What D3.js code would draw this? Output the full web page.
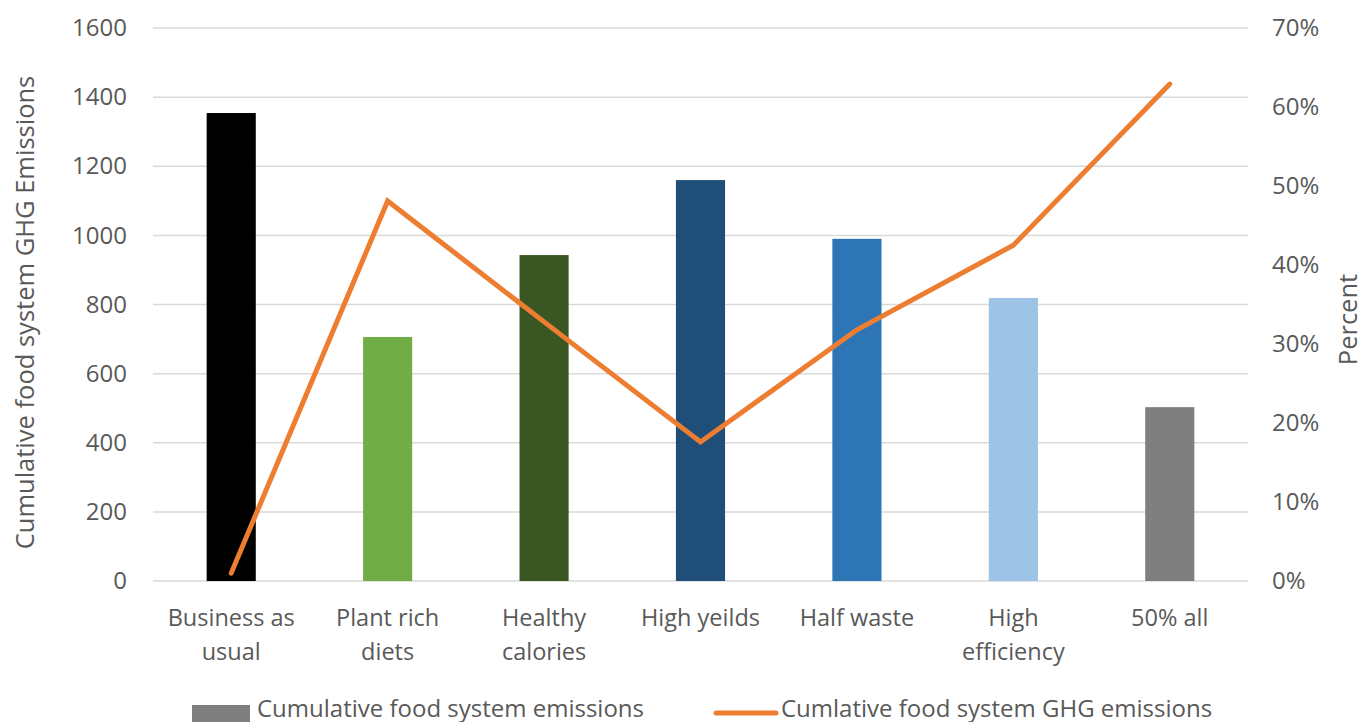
<!DOCTYPE html>
<html>
<head>
<meta charset="utf-8">
<script src="https://cdn.jsdelivr.net/npm/d3@7"></script>
<style>
  html, body { margin: 0; padding: 0; background: #fff; }
  svg { display: block; font-family: "Open Sans", Lato, sans-serif; }
</style>
</head>
<body>
<svg id="chart" width="1363" height="722"></svg>
<script>
// Scenario categories (two-line labels split on "|")
const categories = ["Business as|usual", "Plant rich|diets", "Healthy|calories", "High yeilds", "Half waste", "High|efficiency", "50% all"];
// Cumulative food system emissions (bars, left axis)
const emissions = [1354, 706, 943, 1160, 990, 819, 503];
// Cumulative GHG emissions reduction, percent (line, right axis)
const percent = [0.01, 0.481, 0.328, 0.176, 0.318, 0.425, 0.629];
const barColors = ["#000000", "#70ad47", "#3a5723", "#1f4e79", "#2e75b6", "#9dc3e6", "#7f7f7f"];
const leftTicks = [0, 200, 400, 600, 800, 1000, 1200, 1400, 1600];
const rightTicks = [0, 0.1, 0.2, 0.3, 0.4, 0.5, 0.6, 0.7];
const legendLabels = ["Cumulative food system emissions", "Cumlative food system GHG emissions"];

const svg = d3.select("#chart");
const textColor = "#595959";
const fontFamily = "'Open Sans', Lato, sans-serif";
const plot = { left: 153, right: 1248, top: 28, bottom: 581 };

const x = d3.scaleBand().domain(categories).range([plot.left, plot.right]).paddingInner(0.686).paddingOuter(0.343);
const yL = d3.scaleLinear().domain([0, 1600]).range([plot.bottom, plot.top]);
const yR = d3.scaleLinear().domain([0, 0.7]).range([plot.bottom, plot.top]);
const center = c => x(c) + x.bandwidth() / 2;

// Gridlines
svg.append("g").selectAll("line").data(leftTicks).join("line")
  .attr("x1", plot.left).attr("x2", plot.right)
  .attr("y1", d => yL(d)).attr("y2", d => yL(d))
  .attr("stroke", "#d9d9d9").attr("stroke-width", 1.5);

// Left axis
const leftAxis = svg.append("g").attr("transform", `translate(${plot.left},0)`)
  .call(d3.axisLeft(yL).tickValues(leftTicks).tickSize(0).tickPadding(26).tickFormat(d3.format("d")));
leftAxis.select(".domain").remove();
leftAxis.selectAll("text").attr("fill", textColor).style("font-size", "24px").style("font-family", fontFamily);

// Right axis
const rightAxis = svg.append("g").attr("transform", `translate(${plot.right},0)`)
  .call(d3.axisRight(yR).tickValues(rightTicks).tickSize(0).tickPadding(24).tickFormat(d3.format(".0%")));
rightAxis.select(".domain").remove();
rightAxis.selectAll("text").attr("fill", textColor).style("font-size", "24px").style("font-family", fontFamily);

// Bars
svg.append("g").selectAll("rect").data(categories).join("rect")
  .attr("x", d => x(d))
  .attr("width", x.bandwidth())
  .attr("y", (d, i) => yL(emissions[i]))
  .attr("height", (d, i) => yL(0) - yL(emissions[i]))
  .attr("fill", (d, i) => barColors[i]);

// Category labels
const catG = svg.append("g");
categories.forEach(c => {
  const lines = c.split("|");
  const t = catG.append("text").attr("x", center(c)).attr("y", 626)
    .attr("text-anchor", "middle").attr("fill", textColor).style("font-size", "23.5px");
  lines.forEach((l, j) => t.append("tspan").attr("x", center(c)).attr("dy", j === 0 ? 0 : 34).text(l));
});

// Percent line
const line = d3.line().x((d, i) => center(categories[i])).y(d => yR(d));
svg.append("path").datum(percent)
  .attr("d", line).attr("fill", "none")
  .attr("stroke", "#ed7d31").attr("stroke-width", 5)
  .attr("stroke-linecap", "round").attr("stroke-linejoin", "miter");

// Axis titles
svg.append("text")
  .attr("transform", `translate(34,${(plot.top + plot.bottom) / 2 + 8}) rotate(-90)`)
  .attr("text-anchor", "middle").attr("fill", textColor).style("font-size", "25.5px")
  .text("Cumulative food system GHG Emissions");
svg.append("text")
  .attr("transform", `translate(1357,${(plot.top + plot.bottom) / 2 + 15}) rotate(-90)`)
  .attr("text-anchor", "middle").attr("fill", textColor).style("font-size", "25.5px")
  .text("Percent");

// Legend
const lg = svg.append("g");
lg.append("rect").attr("x", 192).attr("y", 705).attr("width", 58).attr("height", 17).attr("fill", "#7f7f7f");
lg.append("text").attr("x", 257).attr("y", 717).attr("fill", textColor).style("font-size", "24px").text(legendLabels[0]);
lg.append("line").attr("x1", 716).attr("x2", 776).attr("y1", 713).attr("y2", 713)
  .attr("stroke", "#ed7d31").attr("stroke-width", 5).attr("stroke-linecap", "round");
lg.append("text").attr("x", 781).attr("y", 717).attr("fill", textColor).style("font-size", "24px").text(legendLabels[1]);
</script>
</body>
</html>
